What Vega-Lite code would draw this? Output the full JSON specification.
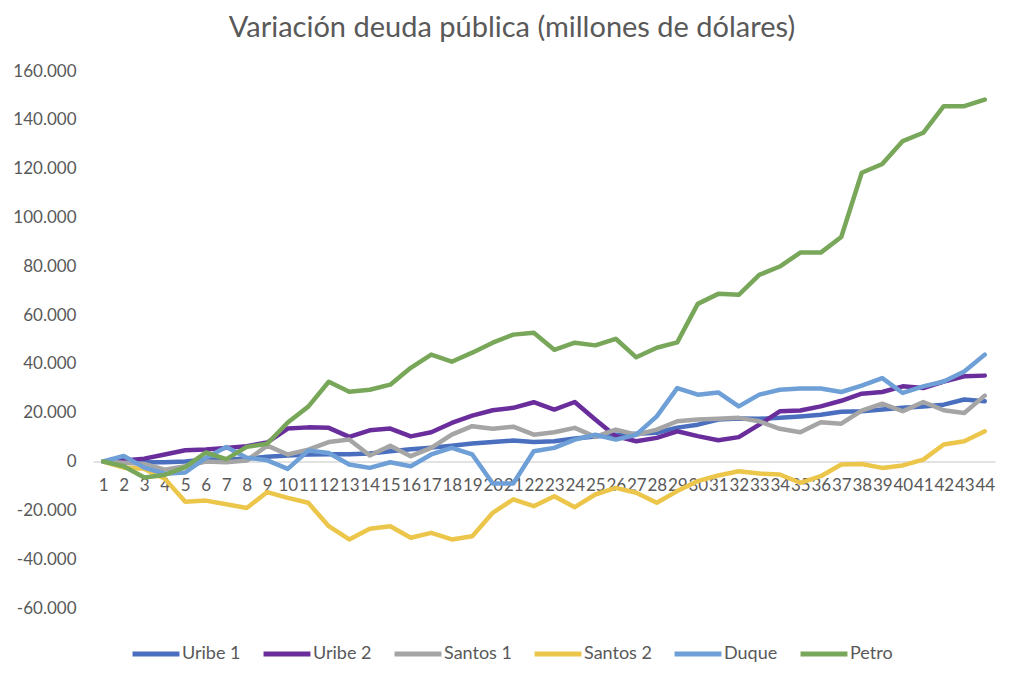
{
  "$schema": "https://vega.github.io/schema/vega-lite/v6.json",
  "width": 902,
  "height": 537,
  "autosize": "none",
  "padding": {"left": 93, "top": 71, "right": 29, "bottom": 68},
  "background": "white",
  "title": {
    "text": "Variación deuda pública (millones de dólares)",
    "font": "Lato",
    "fontSize": 29,
    "fontWeight": "normal",
    "color": "#595959",
    "anchor": "middle",
    "offset": 19,
    "dx": -32
  },
  "data": {
    "values": [
      {"periodo": 1, "serie": "Uribe 1", "valor": 0},
      {"periodo": 2, "serie": "Uribe 1", "valor": 500},
      {"periodo": 3, "serie": "Uribe 1", "valor": -300},
      {"periodo": 4, "serie": "Uribe 1", "valor": -300},
      {"periodo": 5, "serie": "Uribe 1", "valor": 0},
      {"periodo": 6, "serie": "Uribe 1", "valor": 800},
      {"periodo": 7, "serie": "Uribe 1", "valor": 800},
      {"periodo": 8, "serie": "Uribe 1", "valor": 1200},
      {"periodo": 9, "serie": "Uribe 1", "valor": 2000},
      {"periodo": 10, "serie": "Uribe 1", "valor": 2500},
      {"periodo": 11, "serie": "Uribe 1", "valor": 2900},
      {"periodo": 12, "serie": "Uribe 1", "valor": 3000},
      {"periodo": 13, "serie": "Uribe 1", "valor": 3000},
      {"periodo": 14, "serie": "Uribe 1", "valor": 3300},
      {"periodo": 15, "serie": "Uribe 1", "valor": 4200},
      {"periodo": 16, "serie": "Uribe 1", "valor": 5000},
      {"periodo": 17, "serie": "Uribe 1", "valor": 5700},
      {"periodo": 18, "serie": "Uribe 1", "valor": 6500},
      {"periodo": 19, "serie": "Uribe 1", "valor": 7400},
      {"periodo": 20, "serie": "Uribe 1", "valor": 8000},
      {"periodo": 21, "serie": "Uribe 1", "valor": 8600},
      {"periodo": 22, "serie": "Uribe 1", "valor": 8000},
      {"periodo": 23, "serie": "Uribe 1", "valor": 8300},
      {"periodo": 24, "serie": "Uribe 1", "valor": 9400},
      {"periodo": 25, "serie": "Uribe 1", "valor": 10300},
      {"periodo": 26, "serie": "Uribe 1", "valor": 11000},
      {"periodo": 27, "serie": "Uribe 1", "valor": 11400},
      {"periodo": 28, "serie": "Uribe 1", "valor": 11800},
      {"periodo": 29, "serie": "Uribe 1", "valor": 13900},
      {"periodo": 30, "serie": "Uribe 1", "valor": 15100},
      {"periodo": 31, "serie": "Uribe 1", "valor": 17200},
      {"periodo": 32, "serie": "Uribe 1", "valor": 17600},
      {"periodo": 33, "serie": "Uribe 1", "valor": 17500},
      {"periodo": 34, "serie": "Uribe 1", "valor": 17900},
      {"periodo": 35, "serie": "Uribe 1", "valor": 18500},
      {"periodo": 36, "serie": "Uribe 1", "valor": 19200},
      {"periodo": 37, "serie": "Uribe 1", "valor": 20400},
      {"periodo": 38, "serie": "Uribe 1", "valor": 20600},
      {"periodo": 39, "serie": "Uribe 1", "valor": 21300},
      {"periodo": 40, "serie": "Uribe 1", "valor": 22000},
      {"periodo": 41, "serie": "Uribe 1", "valor": 22600},
      {"periodo": 42, "serie": "Uribe 1", "valor": 23300},
      {"periodo": 43, "serie": "Uribe 1", "valor": 25400},
      {"periodo": 44, "serie": "Uribe 1", "valor": 24700},
      {"periodo": 1, "serie": "Uribe 2", "valor": 0},
      {"periodo": 2, "serie": "Uribe 2", "valor": 400},
      {"periodo": 3, "serie": "Uribe 2", "valor": 1200},
      {"periodo": 4, "serie": "Uribe 2", "valor": 2900},
      {"periodo": 5, "serie": "Uribe 2", "valor": 4600},
      {"periodo": 6, "serie": "Uribe 2", "valor": 4900},
      {"periodo": 7, "serie": "Uribe 2", "valor": 5600},
      {"periodo": 8, "serie": "Uribe 2", "valor": 6300},
      {"periodo": 9, "serie": "Uribe 2", "valor": 7800},
      {"periodo": 10, "serie": "Uribe 2", "valor": 13500},
      {"periodo": 11, "serie": "Uribe 2", "valor": 14000},
      {"periodo": 12, "serie": "Uribe 2", "valor": 13800},
      {"periodo": 13, "serie": "Uribe 2", "valor": 10100},
      {"periodo": 14, "serie": "Uribe 2", "valor": 12800},
      {"periodo": 15, "serie": "Uribe 2", "valor": 13500},
      {"periodo": 16, "serie": "Uribe 2", "valor": 10300},
      {"periodo": 17, "serie": "Uribe 2", "valor": 12000},
      {"periodo": 18, "serie": "Uribe 2", "valor": 15800},
      {"periodo": 19, "serie": "Uribe 2", "valor": 18800},
      {"periodo": 20, "serie": "Uribe 2", "valor": 21000},
      {"periodo": 21, "serie": "Uribe 2", "valor": 22000},
      {"periodo": 22, "serie": "Uribe 2", "valor": 24300},
      {"periodo": 23, "serie": "Uribe 2", "valor": 21300},
      {"periodo": 24, "serie": "Uribe 2", "valor": 24400},
      {"periodo": 25, "serie": "Uribe 2", "valor": 17200},
      {"periodo": 26, "serie": "Uribe 2", "valor": 10400},
      {"periodo": 27, "serie": "Uribe 2", "valor": 8300},
      {"periodo": 28, "serie": "Uribe 2", "valor": 9700},
      {"periodo": 29, "serie": "Uribe 2", "valor": 12400},
      {"periodo": 30, "serie": "Uribe 2", "valor": 10400},
      {"periodo": 31, "serie": "Uribe 2", "valor": 8700},
      {"periodo": 32, "serie": "Uribe 2", "valor": 10000},
      {"periodo": 33, "serie": "Uribe 2", "valor": 15100},
      {"periodo": 34, "serie": "Uribe 2", "valor": 20600},
      {"periodo": 35, "serie": "Uribe 2", "valor": 20900},
      {"periodo": 36, "serie": "Uribe 2", "valor": 22600},
      {"periodo": 37, "serie": "Uribe 2", "valor": 24900},
      {"periodo": 38, "serie": "Uribe 2", "valor": 27800},
      {"periodo": 39, "serie": "Uribe 2", "valor": 28500},
      {"periodo": 40, "serie": "Uribe 2", "valor": 30800},
      {"periodo": 41, "serie": "Uribe 2", "valor": 30100},
      {"periodo": 42, "serie": "Uribe 2", "valor": 32800},
      {"periodo": 43, "serie": "Uribe 2", "valor": 34900},
      {"periodo": 44, "serie": "Uribe 2", "valor": 35200},
      {"periodo": 1, "serie": "Santos 1", "valor": 0},
      {"periodo": 2, "serie": "Santos 1", "valor": -500},
      {"periodo": 3, "serie": "Santos 1", "valor": -1000},
      {"periodo": 4, "serie": "Santos 1", "valor": -3300},
      {"periodo": 5, "serie": "Santos 1", "valor": -1900},
      {"periodo": 6, "serie": "Santos 1", "valor": 0},
      {"periodo": 7, "serie": "Santos 1", "valor": -300},
      {"periodo": 8, "serie": "Santos 1", "valor": 400},
      {"periodo": 9, "serie": "Santos 1", "valor": 6500},
      {"periodo": 10, "serie": "Santos 1", "valor": 2900},
      {"periodo": 11, "serie": "Santos 1", "valor": 4900},
      {"periodo": 12, "serie": "Santos 1", "valor": 8000},
      {"periodo": 13, "serie": "Santos 1", "valor": 9000},
      {"periodo": 14, "serie": "Santos 1", "valor": 2500},
      {"periodo": 15, "serie": "Santos 1", "valor": 6500},
      {"periodo": 16, "serie": "Santos 1", "valor": 2200},
      {"periodo": 17, "serie": "Santos 1", "valor": 5600},
      {"periodo": 18, "serie": "Santos 1", "valor": 11000},
      {"periodo": 19, "serie": "Santos 1", "valor": 14500},
      {"periodo": 20, "serie": "Santos 1", "valor": 13400},
      {"periodo": 21, "serie": "Santos 1", "valor": 14300},
      {"periodo": 22, "serie": "Santos 1", "valor": 11000},
      {"periodo": 23, "serie": "Santos 1", "valor": 12000},
      {"periodo": 24, "serie": "Santos 1", "valor": 13800},
      {"periodo": 25, "serie": "Santos 1", "valor": 10100},
      {"periodo": 26, "serie": "Santos 1", "valor": 13100},
      {"periodo": 27, "serie": "Santos 1", "valor": 11000},
      {"periodo": 28, "serie": "Santos 1", "valor": 13100},
      {"periodo": 29, "serie": "Santos 1", "valor": 16500},
      {"periodo": 30, "serie": "Santos 1", "valor": 17200},
      {"periodo": 31, "serie": "Santos 1", "valor": 17500},
      {"periodo": 32, "serie": "Santos 1", "valor": 17900},
      {"periodo": 33, "serie": "Santos 1", "valor": 16500},
      {"periodo": 34, "serie": "Santos 1", "valor": 13400},
      {"periodo": 35, "serie": "Santos 1", "valor": 12000},
      {"periodo": 36, "serie": "Santos 1", "valor": 16100},
      {"periodo": 37, "serie": "Santos 1", "valor": 15500},
      {"periodo": 38, "serie": "Santos 1", "valor": 20900},
      {"periodo": 39, "serie": "Santos 1", "valor": 23700},
      {"periodo": 40, "serie": "Santos 1", "valor": 20600},
      {"periodo": 41, "serie": "Santos 1", "valor": 24400},
      {"periodo": 42, "serie": "Santos 1", "valor": 21000},
      {"periodo": 43, "serie": "Santos 1", "valor": 19900},
      {"periodo": 44, "serie": "Santos 1", "valor": 27000},
      {"periodo": 1, "serie": "Santos 2", "valor": 0},
      {"periodo": 2, "serie": "Santos 2", "valor": -2500},
      {"periodo": 3, "serie": "Santos 2", "valor": -3000},
      {"periodo": 4, "serie": "Santos 2", "valor": -7000},
      {"periodo": 5, "serie": "Santos 2", "valor": -16500},
      {"periodo": 6, "serie": "Santos 2", "valor": -16000},
      {"periodo": 7, "serie": "Santos 2", "valor": -17500},
      {"periodo": 8, "serie": "Santos 2", "valor": -19000},
      {"periodo": 9, "serie": "Santos 2", "valor": -12500},
      {"periodo": 10, "serie": "Santos 2", "valor": -14900},
      {"periodo": 11, "serie": "Santos 2", "valor": -16900},
      {"periodo": 12, "serie": "Santos 2", "valor": -26500},
      {"periodo": 13, "serie": "Santos 2", "valor": -31900},
      {"periodo": 14, "serie": "Santos 2", "valor": -27500},
      {"periodo": 15, "serie": "Santos 2", "valor": -26500},
      {"periodo": 16, "serie": "Santos 2", "valor": -31200},
      {"periodo": 17, "serie": "Santos 2", "valor": -29200},
      {"periodo": 18, "serie": "Santos 2", "valor": -31900},
      {"periodo": 19, "serie": "Santos 2", "valor": -30600},
      {"periodo": 20, "serie": "Santos 2", "valor": -21000},
      {"periodo": 21, "serie": "Santos 2", "valor": -15500},
      {"periodo": 22, "serie": "Santos 2", "valor": -18300},
      {"periodo": 23, "serie": "Santos 2", "valor": -14200},
      {"periodo": 24, "serie": "Santos 2", "valor": -18700},
      {"periodo": 25, "serie": "Santos 2", "valor": -13500},
      {"periodo": 26, "serie": "Santos 2", "valor": -10800},
      {"periodo": 27, "serie": "Santos 2", "valor": -12800},
      {"periodo": 28, "serie": "Santos 2", "valor": -16900},
      {"periodo": 29, "serie": "Santos 2", "valor": -12100},
      {"periodo": 30, "serie": "Santos 2", "valor": -8000},
      {"periodo": 31, "serie": "Santos 2", "valor": -5700},
      {"periodo": 32, "serie": "Santos 2", "valor": -4000},
      {"periodo": 33, "serie": "Santos 2", "valor": -4900},
      {"periodo": 34, "serie": "Santos 2", "valor": -5300},
      {"periodo": 35, "serie": "Santos 2", "valor": -8700},
      {"periodo": 36, "serie": "Santos 2", "valor": -6000},
      {"periodo": 37, "serie": "Santos 2", "valor": -1200},
      {"periodo": 38, "serie": "Santos 2", "valor": -1000},
      {"periodo": 39, "serie": "Santos 2", "valor": -2600},
      {"periodo": 40, "serie": "Santos 2", "valor": -1600},
      {"periodo": 41, "serie": "Santos 2", "valor": 800},
      {"periodo": 42, "serie": "Santos 2", "valor": 7000},
      {"periodo": 43, "serie": "Santos 2", "valor": 8300},
      {"periodo": 44, "serie": "Santos 2", "valor": 12400},
      {"periodo": 1, "serie": "Duque", "valor": 0},
      {"periodo": 2, "serie": "Duque", "valor": 2300},
      {"periodo": 3, "serie": "Duque", "valor": -2500},
      {"periodo": 4, "serie": "Duque", "valor": -5000},
      {"periodo": 5, "serie": "Duque", "valor": -4500},
      {"periodo": 6, "serie": "Duque", "valor": 1500},
      {"periodo": 7, "serie": "Duque", "valor": 6000},
      {"periodo": 8, "serie": "Duque", "valor": 1600},
      {"periodo": 9, "serie": "Duque", "valor": 500},
      {"periodo": 10, "serie": "Duque", "valor": -3000},
      {"periodo": 11, "serie": "Duque", "valor": 4500},
      {"periodo": 12, "serie": "Duque", "valor": 3500},
      {"periodo": 13, "serie": "Duque", "valor": -1200},
      {"periodo": 14, "serie": "Duque", "valor": -2600},
      {"periodo": 15, "serie": "Duque", "valor": -300},
      {"periodo": 16, "serie": "Duque", "valor": -1900},
      {"periodo": 17, "serie": "Duque", "valor": 2900},
      {"periodo": 18, "serie": "Duque", "valor": 5600},
      {"periodo": 19, "serie": "Duque", "valor": 2900},
      {"periodo": 20, "serie": "Duque", "valor": -9000},
      {"periodo": 21, "serie": "Duque", "valor": -9000},
      {"periodo": 22, "serie": "Duque", "valor": 4200},
      {"periodo": 23, "serie": "Duque", "valor": 5600},
      {"periodo": 24, "serie": "Duque", "valor": 9000},
      {"periodo": 25, "serie": "Duque", "valor": 11000},
      {"periodo": 26, "serie": "Duque", "valor": 9000},
      {"periodo": 27, "serie": "Duque", "valor": 11000},
      {"periodo": 28, "serie": "Duque", "valor": 18500},
      {"periodo": 29, "serie": "Duque", "valor": 30100},
      {"periodo": 30, "serie": "Duque", "valor": 27400},
      {"periodo": 31, "serie": "Duque", "valor": 28300},
      {"periodo": 32, "serie": "Duque", "valor": 22600},
      {"periodo": 33, "serie": "Duque", "valor": 27400},
      {"periodo": 34, "serie": "Duque", "valor": 29400},
      {"periodo": 35, "serie": "Duque", "valor": 29900},
      {"periodo": 36, "serie": "Duque", "valor": 29900},
      {"periodo": 37, "serie": "Duque", "valor": 28500},
      {"periodo": 38, "serie": "Duque", "valor": 31100},
      {"periodo": 39, "serie": "Duque", "valor": 34200},
      {"periodo": 40, "serie": "Duque", "valor": 28100},
      {"periodo": 41, "serie": "Duque", "valor": 30800},
      {"periodo": 42, "serie": "Duque", "valor": 32800},
      {"periodo": 43, "serie": "Duque", "valor": 36900},
      {"periodo": 44, "serie": "Duque", "valor": 43800},
      {"periodo": 1, "serie": "Petro", "valor": 0},
      {"periodo": 2, "serie": "Petro", "valor": -1900},
      {"periodo": 3, "serie": "Petro", "valor": -6500},
      {"periodo": 4, "serie": "Petro", "valor": -5500},
      {"periodo": 5, "serie": "Petro", "valor": -2300},
      {"periodo": 6, "serie": "Petro", "valor": 3700},
      {"periodo": 7, "serie": "Petro", "valor": 1000},
      {"periodo": 8, "serie": "Petro", "valor": 6000},
      {"periodo": 9, "serie": "Petro", "valor": 7300},
      {"periodo": 10, "serie": "Petro", "valor": 16000},
      {"periodo": 11, "serie": "Petro", "valor": 22500},
      {"periodo": 12, "serie": "Petro", "valor": 32700},
      {"periodo": 13, "serie": "Petro", "valor": 28600},
      {"periodo": 14, "serie": "Petro", "valor": 29400},
      {"periodo": 15, "serie": "Petro", "valor": 31500},
      {"periodo": 16, "serie": "Petro", "valor": 38400},
      {"periodo": 17, "serie": "Petro", "valor": 43800},
      {"periodo": 18, "serie": "Petro", "valor": 40900},
      {"periodo": 19, "serie": "Petro", "valor": 44600},
      {"periodo": 20, "serie": "Petro", "valor": 48700},
      {"periodo": 21, "serie": "Petro", "valor": 52000},
      {"periodo": 22, "serie": "Petro", "valor": 52800},
      {"periodo": 23, "serie": "Petro", "valor": 45800},
      {"periodo": 24, "serie": "Petro", "valor": 48700},
      {"periodo": 25, "serie": "Petro", "valor": 47600},
      {"periodo": 26, "serie": "Petro", "valor": 50300},
      {"periodo": 27, "serie": "Petro", "valor": 42700},
      {"periodo": 28, "serie": "Petro", "valor": 46600},
      {"periodo": 29, "serie": "Petro", "valor": 48800},
      {"periodo": 30, "serie": "Petro", "valor": 64600},
      {"periodo": 31, "serie": "Petro", "valor": 68700},
      {"periodo": 32, "serie": "Petro", "valor": 68300},
      {"periodo": 33, "serie": "Petro", "valor": 76500},
      {"periodo": 34, "serie": "Petro", "valor": 79900},
      {"periodo": 35, "serie": "Petro", "valor": 85600},
      {"periodo": 36, "serie": "Petro", "valor": 85600},
      {"periodo": 37, "serie": "Petro", "valor": 92000},
      {"periodo": 38, "serie": "Petro", "valor": 118300},
      {"periodo": 39, "serie": "Petro", "valor": 121900},
      {"periodo": 40, "serie": "Petro", "valor": 131300},
      {"periodo": 41, "serie": "Petro", "valor": 134700},
      {"periodo": 42, "serie": "Petro", "valor": 145600},
      {"periodo": 43, "serie": "Petro", "valor": 145600},
      {"periodo": 44, "serie": "Petro", "valor": 148300}
    ]
  },
  "mark": {"type": "line", "strokeWidth": 4.5, "strokeJoin": "round", "strokeCap": "round"},
  "encoding": {
    "x": {
      "field": "periodo",
      "type": "quantitative",
      "scale": {"domain": [0.5, 44.5], "nice": false, "zero": false},
      "axis": {
        "title": null,
        "values": [1, 2, 3, 4, 5, 6, 7, 8, 9, 10, 11, 12, 13, 14, 15, 16, 17, 18, 19, 20, 21, 22, 23, 24, 25, 26, 27, 28, 29, 30, 31, 32, 33, 34, 35, 36, 37, 38, 39, 40, 41, 42, 43, 44],
        "grid": false,
        "ticks": false,
        "labelOverlap": false,
        "labelFlush": false,
        "offset": -146.5,
        "domainColor": "#D9D9D9",
        "domainWidth": 1.5,
        "labelFont": "Lato",
        "labelFontSize": 17,
        "labelColor": "#595959",
        "labelPadding": 16
      }
    },
    "y": {
      "field": "valor",
      "type": "quantitative",
      "scale": {"domain": [-60000, 160000], "nice": false, "zero": false},
      "axis": {
        "title": null,
        "values": [-60000, -40000, -20000, 0, 20000, 40000, 60000, 80000, 100000, 120000, 140000, 160000],
        "grid": false,
        "ticks": false,
        "domain": false,
        "labelExpr": "(datum.value < 0 ? '-' : '') + replace(format(abs(datum.value), ','), ',', '.')",
        "labelFont": "Lato",
        "labelFontSize": 17,
        "labelColor": "#595959",
        "labelPadding": 17
      }
    },
    "color": {
      "field": "serie",
      "type": "nominal",
      "scale": {
        "domain": ["Uribe 1", "Uribe 2", "Santos 1", "Santos 2", "Duque", "Petro"],
        "range": ["#4A6FBF", "#6A2E9C", "#A5A5A5", "#ECC64A", "#6E9FD6", "#78A75A"]
      },
      "legend": {
        "title": null,
        "orient": "none",
        "direction": "horizontal",
        "legendX": 37,
        "legendY": 557,
        "symbolType": "stroke",
        "symbolStrokeWidth": 5,
        "symbolSize": 2200,
        "labelFont": "Lato",
        "labelFontSize": 18,
        "labelColor": "#595959",
        "labelOffset": 0,
        "columnPadding": 12
      }
    }
  },
  "config": {"view": {"stroke": null}}
}
